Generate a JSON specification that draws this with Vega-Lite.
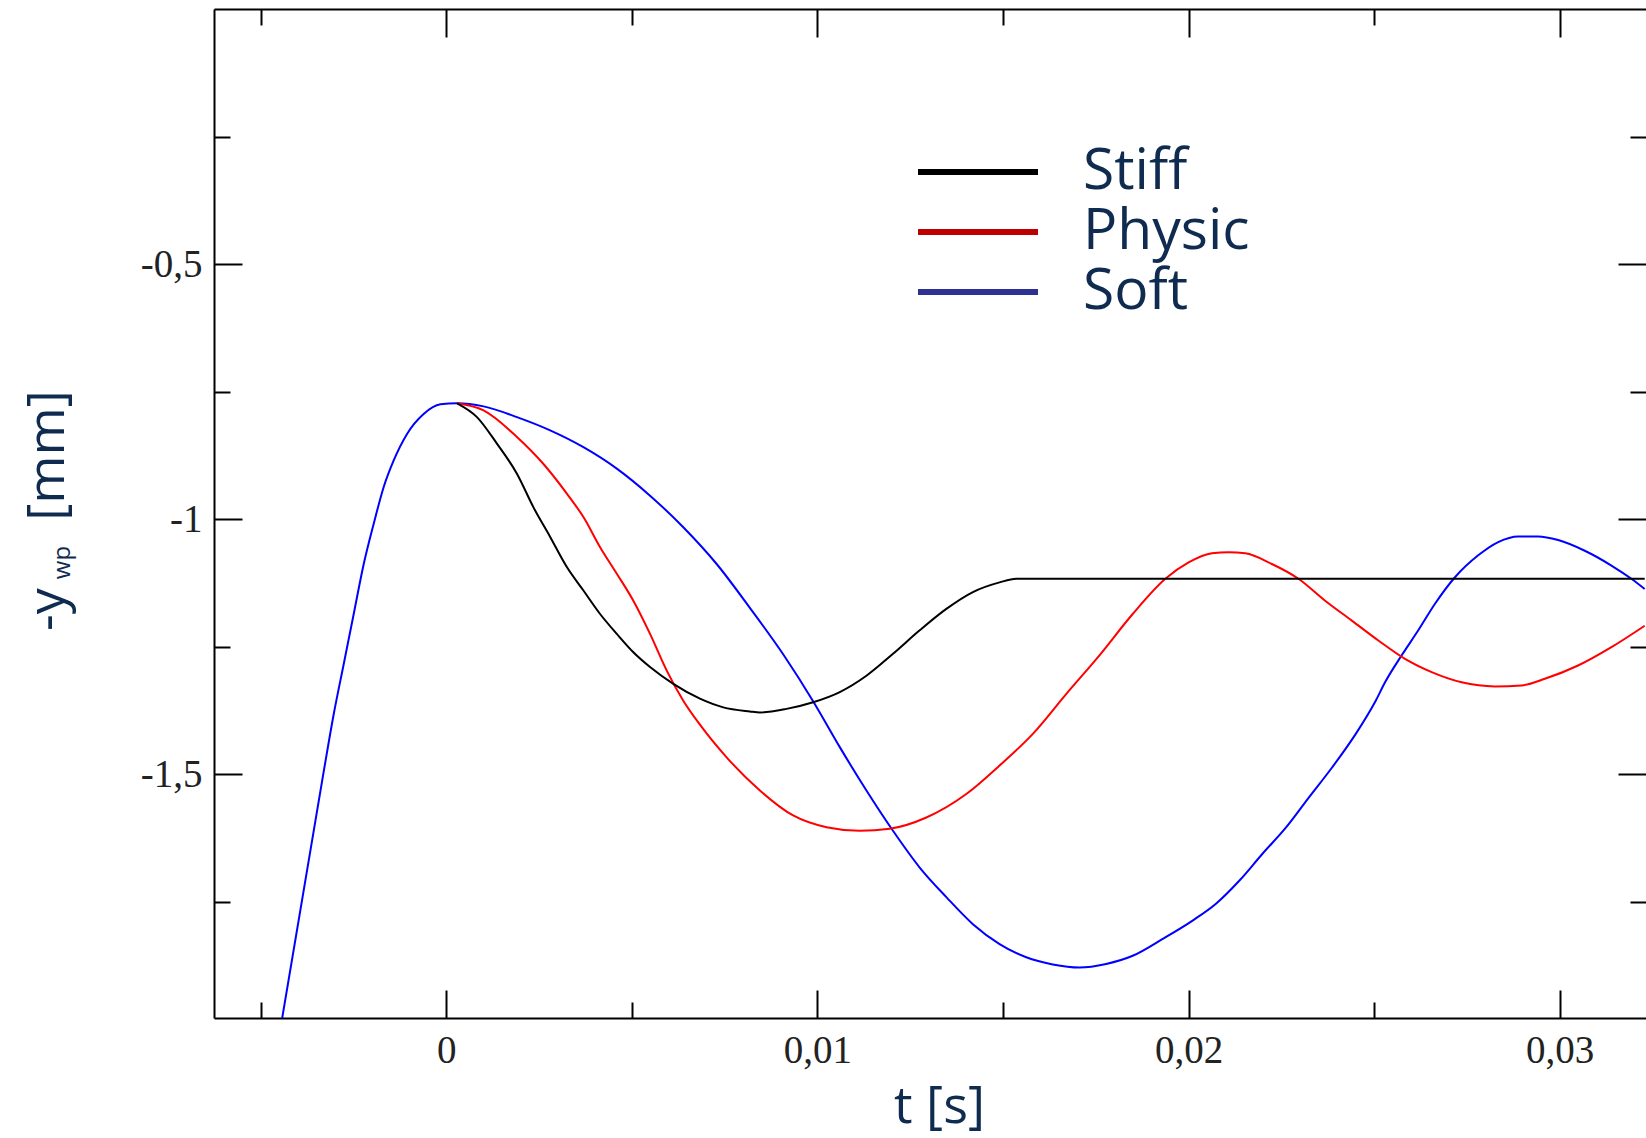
{
  "$schema": "https://vega.github.io/schema/vega-lite/v6.json",
  "width": 1432,
  "height": 1009,
  "autosize": {"type": "none"},
  "padding": {"left": 214, "top": 9, "right": 0, "bottom": 120},
  "config": {
    "view": {"stroke": null},
    "axis": {
      "grid": false,
      "tickColor": "#000000",
      "tickWidth": 2,
      "domainColor": "#000000",
      "domainWidth": 2,
      "labelFont": "Liberation Serif",
      "labelFontSize": 39,
      "labelColor": "#222222",
      "titleFont": "Open Sans",
      "titleFontSize": 52,
      "titleFontWeight": "normal",
      "titleColor": "#0f2b50"
    }
  },
  "data": {
    "values": [
      {"s": "Soft", "t": -0.00445, "v": -1.99},
      {"s": "Soft", "t": -0.003345, "v": -1.5125},
      {"s": "Soft", "t": -0.003033, "v": -1.382},
      {"s": "Soft", "t": -0.002764, "v": -1.284},
      {"s": "Soft", "t": -0.002495, "v": -1.186},
      {"s": "Soft", "t": -0.002225, "v": -1.088},
      {"s": "Soft", "t": -0.001956, "v": -1.009},
      {"s": "Soft", "t": -0.001687, "v": -0.937},
      {"s": "Soft", "t": -0.001418, "v": -0.885},
      {"s": "Soft", "t": -0.001058, "v": -0.833},
      {"s": "Soft", "t": -0.000611, "v": -0.794},
      {"s": "Soft", "t": -0.00016, "v": -0.775},
      {"s": "Soft", "t": 0.00029, "v": -0.773},
      {"s": "Soft", "t": 0.001004, "v": -0.779},
      {"s": "Soft", "t": 0.001903, "v": -0.8},
      {"s": "Soft", "t": 0.002799, "v": -0.826},
      {"s": "Soft", "t": 0.003695, "v": -0.859},
      {"s": "Soft", "t": 0.004594, "v": -0.901},
      {"s": "Soft", "t": 0.00549, "v": -0.954},
      {"s": "Soft", "t": 0.006386, "v": -1.016},
      {"s": "Soft", "t": 0.007285, "v": -1.088},
      {"s": "Soft", "t": 0.00818, "v": -1.174},
      {"s": "Soft", "t": 0.009077, "v": -1.265},
      {"s": "Soft", "t": 0.009884, "v": -1.357},
      {"s": "Soft", "t": 0.010603, "v": -1.447},
      {"s": "Soft", "t": 0.011321, "v": -1.532},
      {"s": "Soft", "t": 0.012037, "v": -1.611},
      {"s": "Soft", "t": 0.012756, "v": -1.683},
      {"s": "Soft", "t": 0.013474, "v": -1.741},
      {"s": "Soft", "t": 0.01419, "v": -1.794},
      {"s": "Soft", "t": 0.014909, "v": -1.833},
      {"s": "Soft", "t": 0.015627, "v": -1.859},
      {"s": "Soft", "t": 0.016343, "v": -1.873},
      {"s": "Soft", "t": 0.017061, "v": -1.879},
      {"s": "Soft", "t": 0.01778, "v": -1.872},
      {"s": "Soft", "t": 0.018496, "v": -1.856},
      {"s": "Soft", "t": 0.019303, "v": -1.823},
      {"s": "Soft", "t": 0.02011, "v": -1.787},
      {"s": "Soft", "t": 0.02074, "v": -1.754},
      {"s": "Soft", "t": 0.021367, "v": -1.709},
      {"s": "Soft", "t": 0.021994, "v": -1.656},
      {"s": "Soft", "t": 0.022623, "v": -1.605},
      {"s": "Soft", "t": 0.023251, "v": -1.545},
      {"s": "Soft", "t": 0.023878, "v": -1.486},
      {"s": "Soft", "t": 0.024507, "v": -1.421},
      {"s": "Soft", "t": 0.025045, "v": -1.356},
      {"s": "Soft", "t": 0.025296, "v": -1.32},
      {"s": "Soft", "t": 0.025745, "v": -1.267},
      {"s": "Soft", "t": 0.026192, "v": -1.218},
      {"s": "Soft", "t": 0.026642, "v": -1.166},
      {"s": "Soft", "t": 0.02718, "v": -1.114},
      {"s": "Soft", "t": 0.027807, "v": -1.071},
      {"s": "Soft", "t": 0.028345, "v": -1.045},
      {"s": "Soft", "t": 0.028884, "v": -1.034},
      {"s": "Soft", "t": 0.029421, "v": -1.034},
      {"s": "Soft", "t": 0.02996, "v": -1.041},
      {"s": "Soft", "t": 0.030678, "v": -1.062},
      {"s": "Soft", "t": 0.031396, "v": -1.091},
      {"s": "Soft", "t": 0.031934, "v": -1.117},
      {"s": "Soft", "t": 0.032293, "v": -1.137},
      {"s": "Physic", "t": 0.00029, "v": -0.773},
      {"s": "Physic", "t": 0.001004, "v": -0.787},
      {"s": "Physic", "t": 0.001903, "v": -0.839},
      {"s": "Physic", "t": 0.002618, "v": -0.892},
      {"s": "Physic", "t": 0.003248, "v": -0.95},
      {"s": "Physic", "t": 0.003695, "v": -0.996},
      {"s": "Physic", "t": 0.004144, "v": -1.055},
      {"s": "Physic", "t": 0.004594, "v": -1.107},
      {"s": "Physic", "t": 0.00504, "v": -1.16},
      {"s": "Physic", "t": 0.00549, "v": -1.225},
      {"s": "Physic", "t": 0.00594, "v": -1.297},
      {"s": "Physic", "t": 0.006386, "v": -1.356},
      {"s": "Physic", "t": 0.006835, "v": -1.403},
      {"s": "Physic", "t": 0.007553, "v": -1.467},
      {"s": "Physic", "t": 0.00845, "v": -1.532},
      {"s": "Physic", "t": 0.009346, "v": -1.581},
      {"s": "Physic", "t": 0.010245, "v": -1.604},
      {"s": "Physic", "t": 0.011141, "v": -1.611},
      {"s": "Physic", "t": 0.011948, "v": -1.607},
      {"s": "Physic", "t": 0.012936, "v": -1.585},
      {"s": "Physic", "t": 0.014012, "v": -1.539},
      {"s": "Physic", "t": 0.014909, "v": -1.483},
      {"s": "Physic", "t": 0.015805, "v": -1.421},
      {"s": "Physic", "t": 0.016703, "v": -1.343},
      {"s": "Physic", "t": 0.0176, "v": -1.267},
      {"s": "Physic", "t": 0.018496, "v": -1.186},
      {"s": "Physic", "t": 0.019376, "v": -1.117},
      {"s": "Physic", "t": 0.020003, "v": -1.085},
      {"s": "Physic", "t": 0.020632, "v": -1.067},
      {"s": "Physic", "t": 0.02108, "v": -1.065},
      {"s": "Physic", "t": 0.021528, "v": -1.067},
      {"s": "Physic", "t": 0.022247, "v": -1.088},
      {"s": "Physic", "t": 0.022963, "v": -1.117},
      {"s": "Physic", "t": 0.023681, "v": -1.16},
      {"s": "Physic", "t": 0.0244, "v": -1.199},
      {"s": "Physic", "t": 0.025116, "v": -1.238},
      {"s": "Physic", "t": 0.025834, "v": -1.274},
      {"s": "Physic", "t": 0.026553, "v": -1.3},
      {"s": "Physic", "t": 0.02736, "v": -1.32},
      {"s": "Physic", "t": 0.028256, "v": -1.328},
      {"s": "Physic", "t": 0.028975, "v": -1.326},
      {"s": "Physic", "t": 0.029602, "v": -1.313},
      {"s": "Physic", "t": 0.030498, "v": -1.287},
      {"s": "Physic", "t": 0.031396, "v": -1.251},
      {"s": "Physic", "t": 0.032293, "v": -1.209},
      {"s": "Stiff", "t": 0.00029, "v": -0.773},
      {"s": "Stiff", "t": 0.000826, "v": -0.8},
      {"s": "Stiff", "t": 0.001364, "v": -0.852},
      {"s": "Stiff", "t": 0.001903, "v": -0.911},
      {"s": "Stiff", "t": 0.002349, "v": -0.977},
      {"s": "Stiff", "t": 0.002799, "v": -1.035},
      {"s": "Stiff", "t": 0.003248, "v": -1.094},
      {"s": "Stiff", "t": 0.003695, "v": -1.14},
      {"s": "Stiff", "t": 0.004144, "v": -1.186},
      {"s": "Stiff", "t": 0.004594, "v": -1.225},
      {"s": "Stiff", "t": 0.00504, "v": -1.261},
      {"s": "Stiff", "t": 0.00549, "v": -1.29},
      {"s": "Stiff", "t": 0.006117, "v": -1.323},
      {"s": "Stiff", "t": 0.006835, "v": -1.352},
      {"s": "Stiff", "t": 0.007463, "v": -1.369},
      {"s": "Stiff", "t": 0.00818, "v": -1.377},
      {"s": "Stiff", "t": 0.00845, "v": -1.379},
      {"s": "Stiff", "t": 0.009168, "v": -1.372},
      {"s": "Stiff", "t": 0.009884, "v": -1.359},
      {"s": "Stiff", "t": 0.010603, "v": -1.339},
      {"s": "Stiff", "t": 0.011321, "v": -1.307},
      {"s": "Stiff", "t": 0.012037, "v": -1.264},
      {"s": "Stiff", "t": 0.012756, "v": -1.218},
      {"s": "Stiff", "t": 0.013474, "v": -1.176},
      {"s": "Stiff", "t": 0.01419, "v": -1.143},
      {"s": "Stiff", "t": 0.014909, "v": -1.124},
      {"s": "Stiff", "t": 0.015357, "v": -1.117},
      {"s": "Stiff", "t": 0.032293, "v": -1.117}
    ]
  },
  "layer": [
    {
      "mark": {"type": "line", "strokeWidth": 2, "clip": true, "interpolate": "monotone"},
      "encoding": {
        "x": {
          "field": "t", "type": "quantitative",
          "scale": {"domain": [-0.00626, 0.032328], "nice": false, "zero": false},
          "axis": {
            "orient": "bottom", "values": [0, 0.01, 0.02, 0.03],
            "tickSize": 28, "offset": -28, "domain": false,
            "labelPadding": 13,
            "labelExpr": "replace(toString(datum.value), '.', ',')",
            "title": null
          }
        },
        "y": {
          "field": "v", "type": "quantitative",
          "scale": {"domain": [-1.978, 0], "nice": false, "zero": false},
          "axis": {
            "orient": "left", "values": [-1.5, -1, -0.5],
            "tickSize": 28, "offset": -28, "domain": false,
            "labelPadding": 12,
            "labelExpr": "replace(toString(datum.value), '.', ',')",
            "title": "-y",
            "titleX": -179, "titleY": 600,
            "titleAngle": 270, "titleAlign": "center", "titleBaseline": "alphabetic"
          }
        },
        "color": {
          "field": "s", "type": "nominal",
          "scale": {"domain": ["Soft", "Physic", "Stiff"], "range": ["#0000ff", "#ff0000", "#000000"]},
          "legend": null
        }
      }
    },
    {
      "transform": [
        {"aggregate": [{"op": "min", "field": "t", "as": "t"}, {"op": "max", "field": "v", "as": "v"}], "groupby": ["s"]}
      ],
      "mark": {"type": "line", "strokeWidth": 6, "strokeCap": "butt", "clip": true},
      "encoding": {
        "x": {
          "field": "t", "type": "quantitative",
          "scale": {"domain": [-0.00626, 0.032328], "nice": false, "zero": false},
          "axis": {
            "orient": "bottom", "values": [-0.005, 0.005, 0.015, 0.025],
            "tickSize": 16, "offset": -16, "domain": false, "labels": false, "title": null
          }
        },
        "y": {
          "field": "v", "type": "quantitative",
          "scale": {"domain": [-1.978, 0], "nice": false, "zero": false},
          "axis": {
            "orient": "left", "values": [-1.75, -1.25, -0.75, -0.25],
            "tickSize": 16, "offset": -16, "domain": false, "labels": false,
            "title": "wp", "titleFontSize": 24,
            "titleX": -161, "titleY": 553,
            "titleAngle": 270, "titleAlign": "center", "titleBaseline": "alphabetic"
          }
        },
        "stroke": {
          "field": "s", "type": "nominal",
          "scale": {"domain": ["Stiff", "Physic", "Soft"], "range": ["#000000", "#c00000", "#2e3192"]},
          "legend": {
            "title": null,
            "orient": "none",
            "legendX": 701,
            "legendY": 133,
            "symbolType": "stroke",
            "symbolSize": 14400,
            "symbolStrokeWidth": 6,
            "clipHeight": 60,
            "rowPadding": 0,
            "labelOffset": 42,
            "labelFont": "Open Sans",
            "labelFontSize": 57,
            "labelColor": "#0f2b50",
            "labelLimit": 400
          }
        }
      }
    },
    {
      "transform": [
        {"aggregate": [{"op": "min", "field": "t", "as": "t"}, {"op": "max", "field": "v", "as": "v"}], "groupby": ["s"]}
      ],
      "mark": {"type": "point", "opacity": 0},
      "encoding": {
        "x": {
          "field": "t", "type": "quantitative",
          "scale": {"domain": [-0.00626, 0.032328], "nice": false, "zero": false},
          "axis": {
            "orient": "top", "values": [0, 0.01, 0.02, 0.03],
            "tickSize": 28, "offset": -28, "domain": false, "labels": false, "title": null
          }
        },
        "y": {
          "field": "v", "type": "quantitative",
          "scale": {"domain": [-1.978, 0], "nice": false, "zero": false},
          "axis": {
            "orient": "right", "values": [-1.5, -1, -0.5],
            "tickSize": 28, "offset": -28, "domain": false, "labels": false, "title": null
          }
        }
      }
    },
    {
      "transform": [
        {"aggregate": [{"op": "min", "field": "t", "as": "t"}, {"op": "max", "field": "v", "as": "v"}], "groupby": ["s"]}
      ],
      "mark": {"type": "point", "opacity": 0},
      "encoding": {
        "x": {
          "field": "t", "type": "quantitative",
          "scale": {"domain": [-0.00626, 0.032328], "nice": false, "zero": false},
          "axis": {
            "orient": "top", "values": [-0.005, 0.005, 0.015, 0.025],
            "tickSize": 16, "offset": -16, "domain": false, "labels": false, "title": null
          }
        },
        "y": {
          "field": "v", "type": "quantitative",
          "scale": {"domain": [-1.978, 0], "nice": false, "zero": false},
          "axis": {
            "orient": "right", "values": [-1.75, -1.25, -0.75, -0.25],
            "tickSize": 16, "offset": -16, "domain": false, "labels": false, "title": null
          }
        }
      }
    },
    {
      "transform": [
        {"aggregate": [{"op": "min", "field": "t", "as": "t"}, {"op": "max", "field": "v", "as": "v"}], "groupby": ["s"]}
      ],
      "mark": {"type": "point", "opacity": 0},
      "encoding": {
        "x": {
          "field": "t", "type": "quantitative",
          "scale": {"domain": [-0.00626, 0.032328], "nice": false, "zero": false},
          "axis": {
            "orient": "bottom", "values": [0], "ticks": false, "labels": false, "domain": true,
            "title": "t [s]",
            "titleX": 725, "titleY": 104,
            "titleAngle": 0, "titleAlign": "center", "titleBaseline": "alphabetic"
          }
        },
        "y": {
          "field": "v", "type": "quantitative",
          "scale": {"domain": [-1.978, 0], "nice": false, "zero": false},
          "axis": {
            "orient": "left", "values": [-1], "ticks": false, "labels": false, "domain": true,
            "title": "[mm]",
            "titleX": -151, "titleY": 446,
            "titleAngle": 270, "titleAlign": "center", "titleBaseline": "alphabetic"
          }
        }
      }
    },
    {
      "transform": [
        {"aggregate": [{"op": "min", "field": "t", "as": "t"}, {"op": "max", "field": "v", "as": "v"}], "groupby": ["s"]}
      ],
      "mark": {"type": "point", "opacity": 0},
      "encoding": {
        "x": {
          "field": "t", "type": "quantitative",
          "scale": {"domain": [-0.00626, 0.032328], "nice": false, "zero": false},
          "axis": {
            "orient": "top", "values": [0], "ticks": false, "labels": false, "domain": true, "title": null
          }
        },
        "y": {
          "field": "v", "type": "quantitative",
          "scale": {"domain": [-1.978, 0], "nice": false, "zero": false},
          "axis": null
        }
      }
    }
  ],
  "resolve": {"axis": {"x": "independent", "y": "independent"}}
}
